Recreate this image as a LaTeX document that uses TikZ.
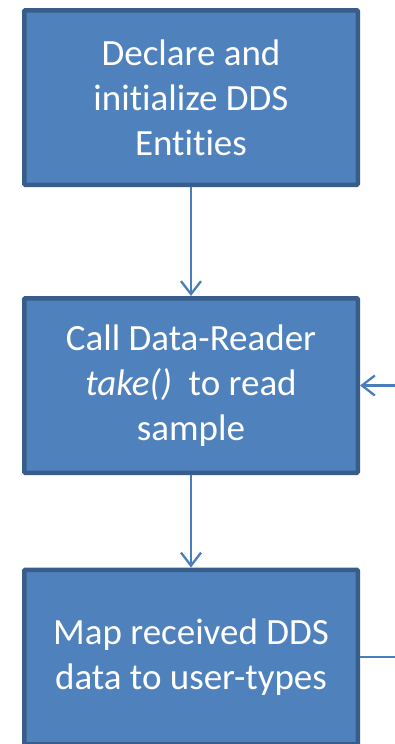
\documentclass[tikz,border=0pt]{standalone}
\usepackage{fontspec}
\setmainfont[Ligatures=NoCommon]{Carlito}
\usetikzlibrary{arrows.meta}
\definecolor{boxfill}{HTML}{4F81BD}
\definecolor{boxline}{HTML}{385D8A}
\definecolor{flowline}{HTML}{4A7EBB}

\begin{document}
\begin{tikzpicture}[x=1pt,y=-1pt]
\useasboundingbox (0,0) rectangle (395,744);
\clip (0,0) rectangle (395,744);
\begin{scope}[every node/.style={rectangle,draw=boxline,fill=boxfill,line width=4.5pt,
              minimum width=333.5pt,minimum height=174.5pt,text=white,align=center,
              font=\fontsize{37}{45}\selectfont,rounded corners=1pt}]
    \node (Init) at (191,97.5) {Declare and\\initialize DDS\\Entities};
    \node (Take) at (191,385.5) {Call Data-Reader\\\textit{take()}~ to read\\sample};
    \node (Map) at (191,657) {Map received DDS\\data to user-types};
\end{scope}
\coordinate (LoopIn) at (395,385.5);
\coordinate (LoopOut) at (395,657);
\begin{scope}[>={Straight Barb[length=13pt,width=20pt]},
              every edge/.style={draw=flowline,line width=2.3pt}]
    \path [->] (Init) edge (Take);
    \path [->] (Take) edge (Map);
    \path [->] (LoopIn) edge (Take);
    \path [-] (Map) edge (LoopOut);
\end{scope}
\end{tikzpicture}
\end{document}
